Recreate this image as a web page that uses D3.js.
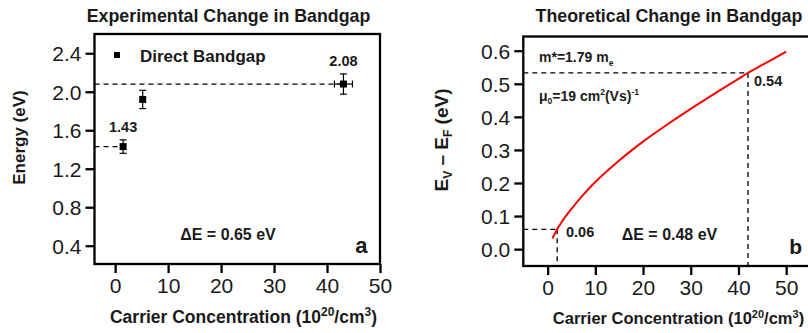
<!DOCTYPE html>
<html><head><meta charset="utf-8">
<script src="https://cdn.jsdelivr.net/npm/d3@7"></script>
<style>
body{margin:0;background:#fff;}
svg{display:block;font-family:"Liberation Sans",Arial,sans-serif;}
.tick text{font-family:"Liberation Sans",Arial,sans-serif;}
</style></head>
<body><svg id="c" width="808" height="333"></svg>
<script>
// Panel a: experimental data
const expX = [1.5, 5.2, 43.1];
const expY = [1.43, 1.92, 2.08];
const expYErr = [0.07, 0.095, 0.105];
const expXErr = [0, 0, 1.7];
const expXTicks = [0, 10, 20, 30, 40, 50];
const expYTicks = [0.4, 0.8, 1.2, 1.6, 2.0, 2.4];
const expMarks = [{x: 1.5, y: 1.43, err: 0.07, label: "1.43"}, {x: 43.1, y: 2.08, err: 0.105, label: "2.08"}];

// Panel b: theoretical curve
const thX = [1, 2, 3, 5, 7.5, 10, 15, 20, 25, 30, 35, 40, 42, 45, 50];
const thY = [0.032, 0.06, 0.083, 0.122, 0.165, 0.203, 0.268, 0.325, 0.376, 0.424, 0.47, 0.515, 0.533, 0.557, 0.597];
const thXTicks = [0, 10, 20, 30, 40, 50];
const thYTicks = [0.0, 0.1, 0.2, 0.3, 0.4, 0.5, 0.6];
const thMarks = [{x: 2, y: 0.06, label: "0.06"}, {x: 42, y: 0.533, label: "0.54"}];

const svg = d3.select("#c");
const INK = "#1a1a1a";

function T(g, x, y, size, anchor, bold = true) {
  return g.append("text").attr("x", x).attr("y", y).attr("text-anchor", anchor || "start")
    .style("font-size", size + "px").style("font-weight", bold ? "bold" : "normal").attr("fill", INK);
}

function frameAxes(g, x, y, xt, yt, yfmt, right) {
  const [x0] = x.range(); const [y0, y1] = y.range();
  const xa = d3.axisBottom(x).tickValues(xt).tickSize(9).tickSizeOuter(0).tickPadding(5).tickFormat(d3.format("d"));
  const ya = d3.axisLeft(y).tickValues(yt).tickSize(9).tickSizeOuter(0).tickPadding(4).tickFormat(yfmt);
  const gx = g.append("g").attr("transform", `translate(0,${y0})`).call(xa);
  const gy = g.append("g").attr("transform", `translate(${x0},0)`).call(ya);
  [gx, gy].forEach(a => {
    a.select(".domain").remove();
    a.selectAll(".tick line").attr("stroke", "#000").attr("stroke-width", 2.3);
    a.selectAll(".tick text").attr("fill", INK).style("font-size", "21px");
  });
  gy.selectAll(".tick text").attr("dy", "0.36em");
  g.append("rect").attr("x", x0).attr("y", y1).attr("width", right - x0).attr("height", y0 - y1)
    .attr("fill", "none").attr("stroke", "#000").attr("stroke-width", 2.3);
}

function xLabel(g, cx, y, size) {
  const sup = Math.round(size * 0.68);
  const xl = T(g, cx, y, size, "middle");
  xl.append("tspan").text("Carrier Concentration (10");
  xl.append("tspan").attr("dy", -size * 0.38).style("font-size", sup + "px").text("20");
  xl.append("tspan").attr("dy", size * 0.38).text("/cm");
  xl.append("tspan").attr("dy", -size * 0.38).style("font-size", sup + "px").text("3");
  xl.append("tspan").attr("dy", size * 0.38).text(")");
}

// ---------- Panel a ----------
{
  const x = d3.scaleLinear().domain([-3.9, 50]).range([94.5, 380]);
  const y = d3.scaleLinear().domain([0.21, 2.6]).range([264, 34]);
  const g = svg.append("g");
  expMarks.forEach(m => {
    g.append("line").attr("x1", x.range()[0]).attr("x2", x(m.x)).attr("y1", y(m.y)).attr("y2", y(m.y))
      .attr("stroke", "#000").attr("stroke-width", 1.3).attr("stroke-dasharray", "5,4");
  });
  frameAxes(g, x, y, expXTicks, expYTicks, d3.format(".1f"), 380);
  expX.forEach((xv, i) => {
    const cx = x(xv), cy = y(expY[i]);
    const ya = y(expY[i] + expYErr[i]), yb = y(expY[i] - expYErr[i]);
    g.append("line").attr("x1", cx).attr("x2", cx).attr("y1", ya).attr("y2", yb).attr("stroke", "#000").attr("stroke-width", 1.2);
    [ya, yb].forEach(yy => g.append("line").attr("x1", cx - 3.5).attr("x2", cx + 3.5).attr("y1", yy).attr("y2", yy).attr("stroke", "#000").attr("stroke-width", 1.2));
    if (expXErr[i] > 0) {
      const xa = x(xv - expXErr[i]), xb = x(xv + expXErr[i]);
      g.append("line").attr("x1", xa).attr("x2", xb).attr("y1", cy).attr("y2", cy).attr("stroke", "#000").attr("stroke-width", 1.2);
      [xa, xb].forEach(xx => g.append("line").attr("x1", xx).attr("x2", xx).attr("y1", cy - 3.5).attr("y2", cy + 3.5).attr("stroke", "#000").attr("stroke-width", 1.2));
    }
    g.append("rect").attr("x", cx - 3.5).attr("y", cy - 3.5).attr("width", 7).attr("height", 7).attr("fill", "#000");
  });
  expMarks.forEach(m => {
    T(g, x(m.x), y(m.y + m.err) - 8, 14.5, "middle").text(m.label);
  });
  g.append("rect").attr("x", 114).attr("y", 52).attr("width", 6).attr("height", 6).attr("fill", "#000");
  T(g, 140, 61.5, 17, "start").text("Direct Bandgap");
  T(g, 228, 240, 16, "middle").text("ΔE = 0.65 eV");
  T(g, 367.5, 253, 22, "end").text("a");
  T(g, 228.5, 21.5, 17.8, "middle").text("Experimental Change in Bandgap");
  xLabel(g, 243.5, 323, 17.5);
  T(g, 0, 0, 17, "middle").attr("transform", "translate(24.5,137.5) rotate(-90)").text("Energy (eV)");
}

// ---------- Panel b ----------
{
  const x = d3.scaleLinear().domain([-5.1, 55]).range([523.3, 810]);
  const y = d3.scaleLinear().domain([-0.051, 0.643]).range([266, 36.5]);
  const g = svg.append("g");
  thMarks.forEach(m => {
    g.append("line").attr("x1", x.range()[0]).attr("x2", x(m.x)).attr("y1", y(m.y)).attr("y2", y(m.y))
      .attr("stroke", "#000").attr("stroke-width", 1.3).attr("stroke-dasharray", "5,4");
    g.append("line").attr("x1", x(m.x)).attr("x2", x(m.x)).attr("y1", y(m.y)).attr("y2", y.range()[0])
      .attr("stroke", "#000").attr("stroke-width", 1.3).attr("stroke-dasharray", "5,4");
  });
  frameAxes(g, x, y, thXTicks, thYTicks, d3.format(".1f"), 812);
  const line = d3.line().x((d, i) => x(thX[i])).y(d => y(d)).curve(d3.curveMonotoneX);
  g.append("path").datum(thY).attr("d", line).attr("fill", "none").attr("stroke", "#ff0000").attr("stroke-width", 2);
  T(g, 566, 237, 14.5, "start").text(thMarks[0].label);
  T(g, 754, 86, 14.5, "start").text(thMarks[1].label);
  T(g, 669.5, 240, 16, "middle").text("ΔE = 0.48 eV");
  T(g, 802, 253.5, 21, "end").text("b");
  const t1 = T(g, 539, 62, 14, "start");
  t1.append("tspan").text("m*=1.79 m");
  t1.append("tspan").attr("dy", 3.5).style("font-size", "8.5px").text("e");
  const t2 = T(g, 539, 100.5, 14, "start");
  t2.append("tspan").text("μ");
  t2.append("tspan").attr("dy", 3.5).style("font-size", "8.5px").text("0");
  t2.append("tspan").attr("dy", -3.5).text("=19 cm");
  t2.append("tspan").attr("dy", -6).style("font-size", "8.5px").text("2");
  t2.append("tspan").attr("dy", 6).text("(Vs)");
  t2.append("tspan").attr("dy", -6).style("font-size", "8.5px").text("-1");
  T(g, 669, 21.5, 17.8, "middle").text("Theoretical Change in Bandgap");
  xLabel(g, 678.5, 324, 16.5);
  const yl = T(g, 0, 0, 19, "middle").attr("transform", "translate(448,140) rotate(-90)");
  yl.append("tspan").text("E");
  yl.append("tspan").attr("dy", 4).style("font-size", "12px").text("V");
  yl.append("tspan").attr("dy", -4).text(" – E");
  yl.append("tspan").attr("dy", 4).style("font-size", "12px").text("F");
  yl.append("tspan").attr("dy", -4).text(" (eV)");
}
</script></body></html>
